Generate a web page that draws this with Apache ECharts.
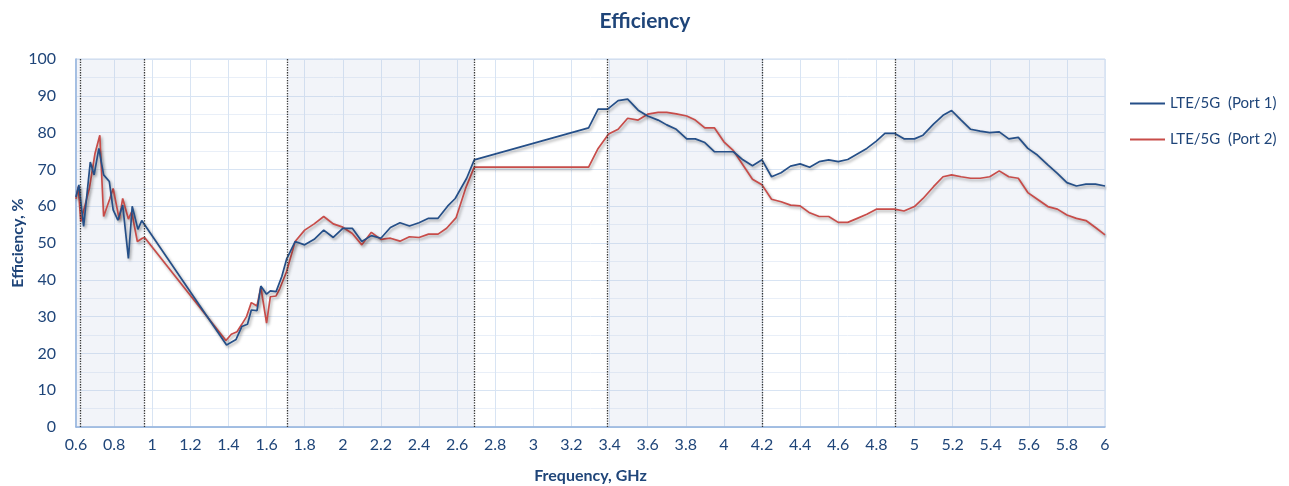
<!DOCTYPE html>
<html>
<head>
<meta charset="utf-8">
<script src="https://cdn.jsdelivr.net/npm/echarts@6/dist/echarts.min.js"></script>
<style>html,body{margin:0;padding:0;background:#fff}#c{width:1289px;height:486px}</style>
</head>
<body>
<div id="c"></div>
<script>
const freqP1 = [0.6,0.615,0.64,0.675,0.695,0.72,0.745,0.775,0.795,0.82,0.845,0.875,0.895,0.925,0.945,
1.39,1.44,1.47,1.5,1.52,1.55,1.57,1.6,1.62,1.65,1.68,1.705,1.75,1.8,1.85,1.9,1.95,2.0,2.05,2.1,2.15,2.2,2.25,2.3,2.35,2.4,2.45,2.5,2.55,2.59,2.65,2.69,
3.29,3.34,3.39,3.445,3.495,3.55,3.6,3.655,3.7,3.75,3.805,3.85,3.9,3.95,4.0,4.05,4.1,4.15,4.2,4.25,4.3,4.35,4.4,4.45,4.5,4.55,4.6,4.65,4.7,4.75,4.8,4.845,4.895,4.945,5.0,5.045,5.1,5.15,5.195,5.245,5.295,5.345,5.395,5.445,5.495,5.545,5.595,5.645,5.7,5.75,5.8,5.85,5.9,5.95,6.0];
const effP1 = [62.5,65.8,54.5,72,68.5,75.7,68.5,66.7,59,56.2,60.3,45.8,60,53.7,56.1,
22.3,23.8,27.3,27.9,31.8,31.6,38.3,36.1,37,36.8,40.9,45.6,50.4,49.5,51,53.5,51.5,54,54,50.4,52,51.3,54.2,55.5,54.6,55.5,56.7,56.7,60,62.1,67.6,72.6,
81.3,86.4,86.4,88.7,89.1,86.1,84.5,83.4,82.1,80.9,78.3,78.3,77.3,74.8,74.8,74.8,72.6,71,72.6,68,69.1,70.9,71.5,70.6,72.1,72.6,72.1,72.7,74.2,75.7,77.7,79.8,79.8,78.3,78.3,79.3,82.3,84.7,86,83.4,80.9,80.4,80,80.2,78.3,78.7,75.7,73.9,71.2,68.9,66.4,65.5,66,66,65.5];

const freqP2 = [0.6,0.612,0.625,0.67,0.7,0.725,0.745,0.778,0.795,0.827,0.845,0.875,0.892,0.922,0.948,0.96,
1.387,1.415,1.445,1.47,1.495,1.52,1.55,1.57,1.6,1.62,1.65,1.67,1.705,1.75,1.8,1.85,1.9,1.95,2.0,2.05,2.1,2.15,2.2,2.25,2.3,2.35,2.4,2.45,2.5,2.545,2.595,2.645,2.69,
3.29,3.34,3.395,3.445,3.495,3.55,3.6,3.655,3.7,3.75,3.805,3.85,3.9,3.95,4.0,4.05,4.1,4.15,4.2,4.25,4.3,4.35,4.4,4.45,4.5,4.55,4.6,4.65,4.7,4.75,4.8,4.845,4.895,4.945,5.0,5.045,5.1,5.15,5.195,5.245,5.295,5.345,5.395,5.445,5.495,5.545,5.595,5.645,5.7,5.75,5.8,5.85,5.9,5.95,6.0];
const effP2 = [62,65.3,55.8,64.8,74.4,79.3,57.2,62.1,64.8,56.4,62.1,56.5,58.5,50.4,51.3,51.5,
23.5,25.2,25.9,27.9,30,33.8,32.9,38,28.2,35.4,35.6,37.7,42.2,50.4,53.5,55.2,57.2,55.2,54.3,52.6,49.5,52.9,51,51.3,50.5,51.7,51.5,52.4,52.4,54,56.9,64.9,70.6,
70.6,75.7,79.6,80.9,83.9,83.4,85,85.5,85.5,85.1,84.5,83.4,81.3,81.3,77.5,75.1,71.2,67.3,65.8,61.9,61.2,60.3,60.1,58.2,57.2,57.2,55.6,55.6,56.7,57.8,59.2,59.2,59.2,58.7,59.9,62.1,65.3,68,68.5,68,67.6,67.6,68,69.6,68,67.6,63.7,61.9,59.9,59.2,57.6,56.7,56.1,54.2,52.2];

const bandStart = [0.6, 1.71, 3.39, 4.9];
const bandEnd = [0.96, 2.69, 4.2, 6.0];
const dottedAt = [0.617, 0.96, 1.71, 2.69, 3.39, 4.2, 4.9];
const seriesNames = ['LTE/5G  (Port 1)', 'LTE/5G  (Port 2)'];

const txt = '#1f4579';
const font = 'Lato, "Open Sans", sans-serif';
const shadow = {shadowColor:'rgba(0,0,0,0.35)', shadowBlur:3, shadowOffsetX:1.5, shadowOffsetY:2};

const chart = echarts.init(document.getElementById('c'));
chart.setOption({
  animation: false,
  textStyle: {fontFamily: font},
  title: {text: 'Efficiency', left: 640, top: 6, textAlign: 'center',
    textStyle: {color: txt, fontSize: 21, fontWeight: 'bold', fontFamily: font}},
  legend: {orient: 'vertical', left: 1130, top: 96, padding: 0, itemWidth: 35, itemHeight: 2, itemGap: 21, icon: 'rect',
    data: seriesNames, textStyle: {color: txt, fontSize: 15, fontFamily: font}},
  grid: {left: 76, right: 184, top: 59, bottom: 59, outerBoundsMode: 'none', show: true, borderColor: '#c9d8ee', borderWidth: 1},
  xAxis: {type: 'value', min: 0.6, max: 6, interval: 0.2,
    name: 'Frequency, GHz', nameLocation: 'middle', nameGap: 41, nameMoveOverlap: false,
    nameTextStyle: {color: txt, fontSize: 16, fontWeight: 'bold', fontFamily: font},
    axisLine: {lineStyle: {color: '#8fb0dd', width: 1.5}},
    axisTick: {show: false},
    axisLabel: {color: txt, fontSize: 16, margin: 10, fontFamily: font,
      formatter: v => String(Math.round(v*10)/10)},
    splitLine: {show: true, lineStyle: {color: '#d8e4f3', width: 1}}},
  yAxis: {type: 'value', min: 0, max: 100, interval: 10,
    name: 'Efficiency, %', nameLocation: 'middle', nameGap: 50, nameMoveOverlap: false,
    nameTextStyle: {color: txt, fontSize: 16, fontWeight: 'bold', fontFamily: font},
    axisLine: {show: true, lineStyle: {color: '#8fb0dd', width: 1.5}},
    axisTick: {show: false},
    axisLabel: {color: txt, fontSize: 16, margin: 20, fontFamily: font},
    splitLine: {show: true, lineStyle: {color: '#d8e4f3', width: 1}},
    minorTick: {show: false, splitNumber: 2},
    minorSplitLine: {show: true, lineStyle: {color: '#e9eff8', width: 1}}},
  series: [
    {type: 'line', name: 'bands', data: [], z: 1, silent: true,
      markArea: {silent: true, itemStyle: {color: 'rgba(190,202,224,0.2)'},
        data: bandStart.map((s, i) => [{xAxis: s}, {xAxis: bandEnd[i]}])},
      markLine: {silent: true, symbol: 'none', label: {show: false},
        lineStyle: {type: 'dotted', color: '#333', width: 1.3},
        data: dottedAt.map(x => ({xAxis: x}))}},
    {type: 'line', name: seriesNames[0], symbol: 'none', z: 3,
      data: freqP1.map((f, i) => [f, effP1[i]]),
      itemStyle: {color: '#254f88'},
      lineStyle: Object.assign({color: '#254f88', width: 1.7}, shadow)},
    {type: 'line', name: seriesNames[1], symbol: 'none', z: 2,
      data: freqP2.map((f, i) => [f, effP2[i]]),
      itemStyle: {color: '#c84c49'},
      lineStyle: Object.assign({color: '#c84c49', width: 1.7}, shadow)}
  ]
});
</script>
</body>
</html>
